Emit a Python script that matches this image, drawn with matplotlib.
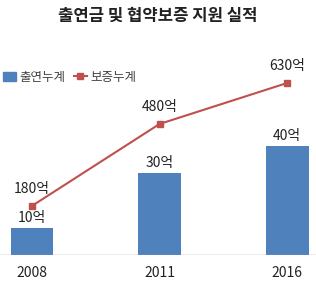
import matplotlib.pyplot as plt
from matplotlib.lines import Line2D
from matplotlib.patches import Patch

plt.rcParams['font.family'] = ['Noto Sans CJK KR', 'DejaVu Sans']

years = ['2008', '2011', '2016']
chulyeon = [10, 30, 40]      # 출연누계 (억)
bojeung = [180, 480, 630]    # 보증누계 (억)

bar_color = '#4F81BD'
line_color = '#C0504D'
x = list(range(len(years)))

fig = plt.figure(figsize=(3.16, 2.91), dpi=100)
ax = fig.add_axes([0, 0.1237, 1, 0.636])
ax2 = ax.twinx()

ax.bar(x, chulyeon, width=0.337, color=bar_color, zorder=2)
ax2.plot(x, bojeung, color=line_color, lw=1.5, marker='s', ms=4.5, zorder=3)

ax.set_xlim(-0.251, 2.227)
ax.set_ylim(0, 67.8)
ax2.set_ylim(0, 678)

for i, v in enumerate(chulyeon):
    ax.text(i, v + 1.0, f'{v}억', ha='center', va='bottom', fontsize=10, color='#222222')
for i, v in enumerate(bojeung):
    ax2.text(i, v + 35, f'{v}억', ha='center', va='bottom', fontsize=10, color='#222222')

ax.set_xticks(x)
ax.set_xticklabels(years, fontsize=10, color='#222222')
ax.tick_params(axis='x', length=0, pad=8)
ax.set_yticks([])
ax2.set_yticks([])
for a in (ax, ax2):
    for s in ['top', 'left', 'right', 'bottom']:
        a.spines[s].set_visible(False)
ax.axhline(0, color='#9a9a9a', lw=1, zorder=4)

handles = [Patch(color=bar_color), Line2D([], [], color=line_color, lw=1.5, marker='s', ms=4)]
fig.legend(handles, ['출연누계', '보증누계'], loc='center left', bbox_to_anchor=(0.008, 0.735),
           ncol=2, frameon=False, fontsize=9, handlelength=1.1, handletextpad=0.25,
           columnspacing=0.65, borderpad=0, borderaxespad=0, labelcolor='#404040')

fig.text(0.5, 0.945, '출연금 및 협약보증 지원 실적', ha='center', va='center',
         fontsize=12, fontweight='bold', color='#222222')

fig.savefig('out.png', dpi=100)
